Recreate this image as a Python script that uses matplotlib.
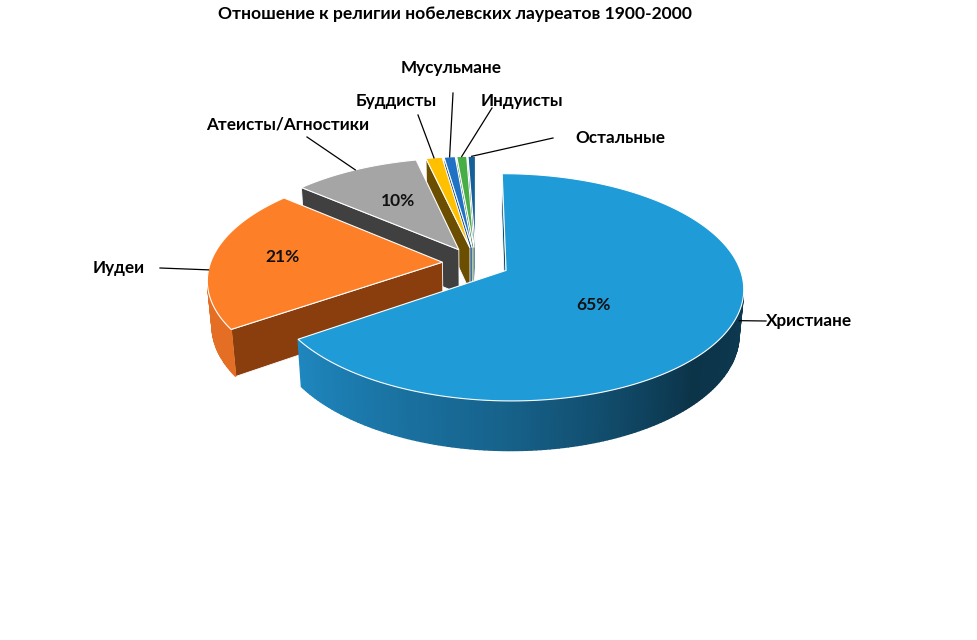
import numpy as np
import matplotlib.pyplot as plt
from matplotlib.patches import Polygon

plt.rcParams['font.family'] = ['Lato', 'DejaVu Sans']

# данные диаграммы
title = 'Отношение к религии нобелевских лауреатов 1900-2000'
religions = ['Христиане', 'Иудеи', 'Атеисты/Агностики', 'Буддисты',
             'Мусульмане', 'Индуисты', 'Остальные']
shares = [65.4, 20.8, 10.2, 1.3, 0.9, 0.8, 0.6]
pct_labels = ['65%', '21%', '10%', '', '', '', '']

# цвета: верх, радиальная стенка, внешняя стенка
top_colors = ['#1f9bd7', '#fd7f27', '#a5a5a5', '#ffc000', '#1f72c4', '#47ad45', '#175f97']
side_colors = ['#0a4f75', '#8a3d0d', '#404040', '#6b4e00', '#134a80', '#2d6e2c', '#0e3c60']
wall_colors = [(0.12, 0.53, 0.75), (0.89, 0.43, 0.14), (0.35, 0.35, 0.35),
               (0.45, 0.33, 0.0), (0.09, 0.30, 0.52), (0.18, 0.44, 0.18), (0.06, 0.24, 0.38)]

# геометрия "3D" (пиксели картинки)
CX, CY, S = 476, 263, 232
EL = np.radians(28)
D = 6.0
H = 0.22
EXPL = 0.145
sn, cs = np.sin(EL), np.cos(EL)
cam = np.array([0.0, -D * cs, D * sn])


def proj(X, Y, Z):
    k = D / (D + Y * cs - Z * sn)
    return CX + S * X * k, CY - S * (Y * sn + Z * cs) * k


def shade(t):
    # затемнение внешней стенки к правому краю
    t = (t + 180) % 360 - 180
    return np.interp(t, [-180, -145, -90, -45, -15, 0, 180],
                     [1.0, 1.0, 0.72, 0.38, 0.42, 0.45, 0.45])


fig = plt.figure(figsize=(9.78, 6.4), dpi=100)
ax = fig.add_axes([0, 0, 1, 1])
ax.set_xlim(0, 978)
ax.set_ylim(640, 0)
ax.axis('off')

cum = np.cumsum([0] + shares)
a_hi = 90 - cum[:-1] * 3.6
a_lo = 90 - cum[1:] * 3.6
mids = (a_hi + a_lo) / 2
origins = [EXPL * np.array([np.cos(np.radians(m)), np.sin(np.radians(m))]) for m in mids]

order = np.argsort(-np.sin(np.radians(mids)))
z = 1
for i in order:
    O = origins[i]
    th = np.linspace(a_lo[i], a_hi[i], max(3, int(a_hi[i] - a_lo[i]) + 2))
    rx = O[0] + np.cos(np.radians(th))
    ry = O[1] + np.sin(np.radians(th))

    # радиальные стенки
    for a, na in [(a_hi[i], a_hi[i] + 90), (a_lo[i], a_lo[i] - 90)]:
        ar = np.radians(a)
        n = np.array([np.cos(np.radians(na)), np.sin(np.radians(na)), 0])
        P = np.array([O[0] + 0.5 * np.cos(ar), O[1] + 0.5 * np.sin(ar), -H / 2])
        if np.dot(cam - P, n) > 0:
            ex, ey = O[0] + np.cos(ar), O[1] + np.sin(ar)
            pts = [proj(O[0], O[1], 0), proj(ex, ey, 0), proj(ex, ey, -H), proj(O[0], O[1], -H)]
            ax.add_patch(Polygon(pts, closed=True, facecolor=side_colors[i],
                                 edgecolor='white', lw=0.6, zorder=z))
            z += 1

    # внешняя стенка с градиентом
    for j in range(len(th) - 1):
        tm = np.radians((th[j] + th[j + 1]) / 2)
        n = np.array([np.cos(tm), np.sin(tm), 0])
        P = np.array([O[0] + np.cos(tm), O[1] + np.sin(tm), -H / 2])
        if np.dot(cam - P, n) > 0:
            pts = [proj(rx[j], ry[j], 0), proj(rx[j + 1], ry[j + 1], 0),
                   proj(rx[j + 1], ry[j + 1], -H), proj(rx[j], ry[j], -H)]
            col = np.clip(np.array(wall_colors[i]) * shade(np.degrees(tm)), 0, 1)
            ax.add_patch(Polygon(pts, closed=True, facecolor=col, edgecolor=col,
                                 lw=1.0, zorder=z))
    z += 1

    # верхняя грань
    pts = [proj(O[0], O[1], 0)] + [proj(x, y, 0) for x, y in zip(rx, ry)]
    ax.add_patch(Polygon(pts, closed=True, facecolor=top_colors[i],
                         edgecolor='white', lw=0.8, zorder=z))
    z += 1

# подписи процентов (радиус и угол от вершины сектора)
pct_pos = [(0.46, -40), (0.70, 176), (0.58, 120)]
for i, (r, a) in enumerate(pct_pos):
    O = origins[i]
    x, y = proj(O[0] + r * np.cos(np.radians(a)), O[1] + r * np.sin(np.radians(a)), 0)
    ax.text(x, y, pct_labels[i], ha='center', va='center', fontsize=12.5,
            fontweight='bold', color='#111111', zorder=200)

# подписи категорий: позиция текста, начало выноски, угол и высота точки на секторе
cat_layout = [
    ((809, 321), (766, 321), -6, -0.85),
    ((119, 268), (160, 268), 184, 0),
    ((288, 124), (307, 137), None, 0),
    ((396, 101), (418, 115), None, 0),
    ((451, 68), (453, 93), None, 0),
    ((522, 101), (492, 108), None, 0),
    ((620, 138), (553, 138), None, 0),
]
for i, ((tx, ty), (lx, ly), ang, zf) in enumerate(cat_layout):
    O = origins[i]
    a = np.radians(mids[i] if ang is None else ang)
    ex, ey = proj(O[0] + np.cos(a), O[1] + np.sin(a), zf * H)
    ax.plot([lx, ex], [ly, ey], color='black', lw=0.9, zorder=150)
    ax.text(tx, ty, religions[i], ha='center', va='center', fontsize=12.3,
            fontweight='bold', color='black', zorder=200)

ax.text(455, 14, title, ha='center', va='center', fontsize=12.6,
        fontweight='bold', color='black')

fig.savefig('out.png', dpi=100)
